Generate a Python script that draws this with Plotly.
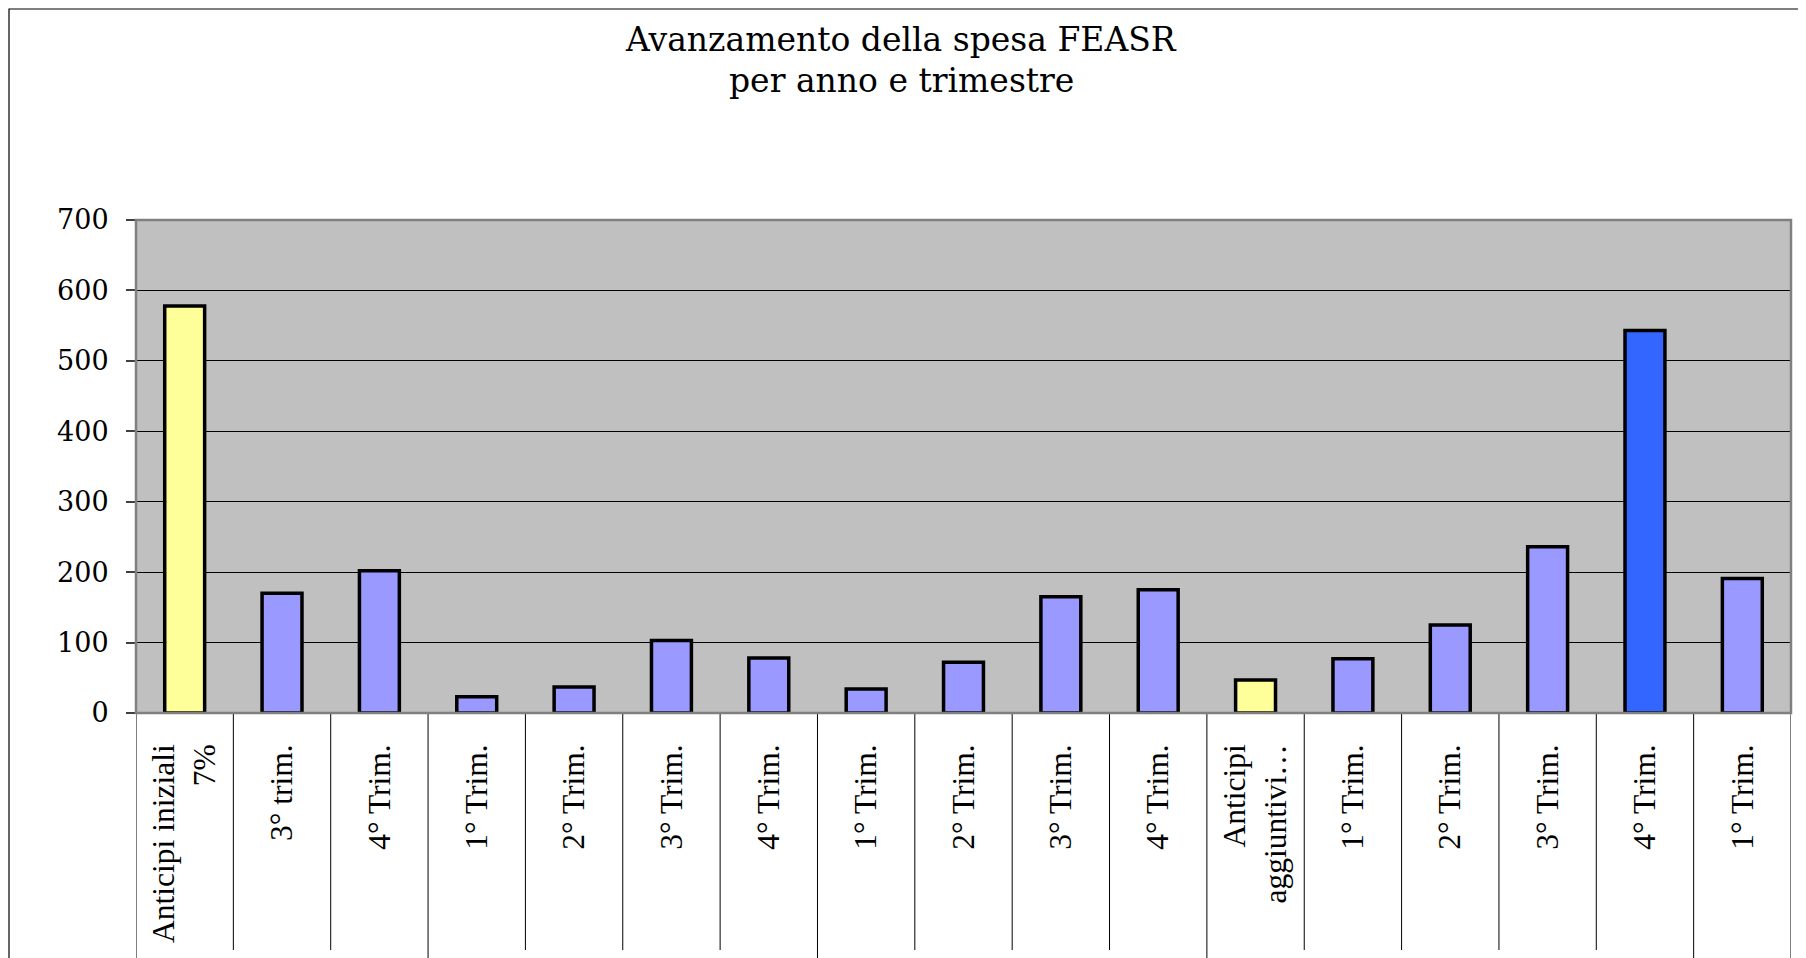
import plotly.graph_objects as go

# ---- data ----
categories = ["Anticipi iniziali<br>7%", "3° trim.", "4° Trim.",
              "1° Trim.", "2° Trim.", "3° Trim.", "4° Trim.",
              "1° Trim.", "2° Trim.", "3° Trim.", "4° Trim.",
              "Anticipi<br>aggiuntivi…", "1° Trim.", "2° Trim.", "3° Trim.", "4° Trim.",
              "1° Trim."]
values = [578, 170, 202, 23, 37, 103, 78, 34, 72, 165, 175, 47, 77, 125, 236, 543, 191]
bar_colors = ["#FFFF99", "#9999FF", "#9999FF",
              "#9999FF", "#9999FF", "#9999FF", "#9999FF",
              "#9999FF", "#9999FF", "#9999FF", "#9999FF",
              "#FFFF99", "#9999FF", "#9999FF", "#9999FF", "#3366FF",
              "#9999FF"]
group_sizes = [3, 4, 4, 5, 1]   # year groups (labels cut off in the reference)
y_ticks = [0, 100, 200, 300, 400, 500, 600, 700]
title_lines = ["Avanzamento della spesa FEASR", "per anno e trimestre"]

# ---- geometry (page has an 8px body margin) ----
OFF = 8
W, H = 1806 - OFF, 958 - OFF
L, T = 136 - OFF, 220 - OFF
pw, ph = 1655, 493
R, B = W - L - pw, H - T - ph

def py(p):  # figure pixel y -> paper y
    return (T + ph - p) / ph

def px(p):  # figure pixel x -> paper x
    return (p - L) / pw

xs = list(range(len(categories)))

fig = go.Figure()
fig.add_trace(go.Bar(
    x=xs, y=values, width=0.41,
    marker=dict(color=bar_colors, line=dict(color="black", width=3.5)),
    hoverinfo="y", showlegend=False,
))

shapes = []
group_bounds = set()
acc = 0
for g in group_sizes:
    acc += g
    group_bounds.add(acc)
n = len(categories)
for i in range(0, n + 1):
    is_group = i in group_bounds or i == 0 or i == n
    y1 = py(H + 20) if is_group else py(950 - OFF)
    shapes.append(dict(type="line", xref="x", yref="paper",
                       x0=i - 0.5, x1=i - 0.5, y0=0, y1=y1,
                       line=dict(color="black", width=1), layer="below"))
# plot-area frame (gray)
shapes.append(dict(type="rect", xref="paper", yref="paper",
                   x0=0, x1=1, y0=0, y1=1,
                   line=dict(color="#808080", width=2.5), layer="above"))
# outer chart border
shapes.append(dict(type="rect", xref="paper", yref="paper",
                   x0=px(1), x1=px(W + 20),
                   y0=py(H + 20), y1=py(1),
                   line=dict(color="black", width=1.2), layer="below"))

annotations = []
title_baselines = [52 - OFF, 92 - OFF]
for txt, base in zip(title_lines, title_baselines):
    annotations.append(dict(text=txt, xref="paper", yref="paper",
                            x=px(901 - OFF), y=py(base - 12),
                            xanchor="center", yanchor="middle", showarrow=False,
                            font=dict(family="DejaVu Serif", size=33, color="black")))

fig.update_layout(
    width=W, height=H,
    margin=dict(l=L, r=R, t=T, b=B, pad=0, autoexpand=False),
    paper_bgcolor="white",
    plot_bgcolor="#C0C0C0",
    shapes=shapes,
    annotations=annotations,
    xaxis=dict(range=[-0.5, n - 0.5], tickmode="array", tickvals=xs,
               ticktext=categories, tickangle=-90, ticks="",
               ticklabelstandoff=24,
               tickfont=dict(family="Liberation Serif", size=31.5, color="black"),
               showgrid=False, zeroline=False, showline=False, fixedrange=True),
    yaxis=dict(range=[0, 700], tickmode="array", tickvals=y_ticks,
               ticks="outside", ticklen=9, tickcolor="#404040", tickwidth=1.5,
               ticklabelstandoff=12,
               tickfont=dict(family="DejaVu Serif", size=27, color="black"),
               showgrid=True, gridcolor="black", gridwidth=1,
               zeroline=False, showline=False, fixedrange=True),
    bargap=0.59,
)

fig.write_html("out.html")
